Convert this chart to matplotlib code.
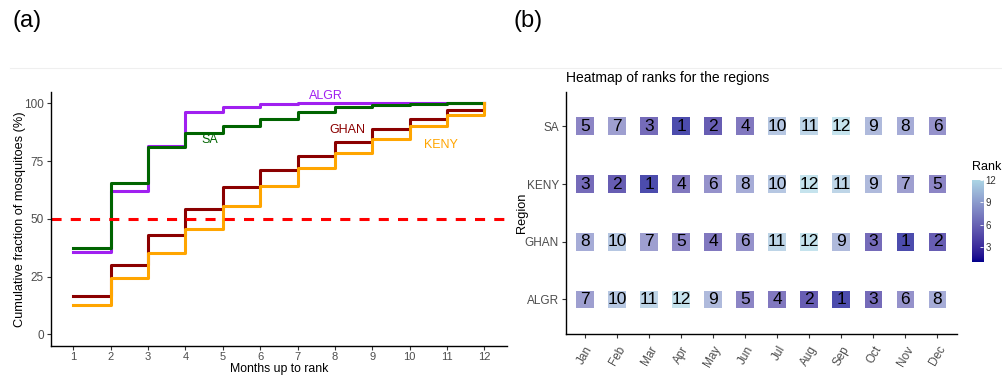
import matplotlib
matplotlib.use("Agg")
import matplotlib.pyplot as plt
import numpy as np
from matplotlib.colors import ListedColormap, to_rgb
from matplotlib.lines import Line2D

plt.rcParams["font.family"] = ["Liberation Sans", "DejaVu Sans"]

# ---- (a) cumulative fraction by number of top-ranked months ----
months_up_to_rank = [1, 2, 3, 4, 5, 6, 7, 8, 9, 10, 11, 12]
cum_algr = [35.5, 62.1, 81.5, 96.2, 98.3, 99.6, 99.9, 100, 100, 100, 100, 100]
cum_sa = [37.4, 65.5, 81.1, 87.0, 90.3, 93.1, 96.1, 98.5, 99.4, 99.7, 100, 100]
cum_ghan = [16.8, 30.2, 42.9, 54.1, 63.6, 71.2, 77.3, 83.4, 88.9, 93.1, 97.0, 100]
cum_keny = [12.7, 24.3, 35.1, 45.7, 55.5, 64.2, 71.9, 78.3, 84.6, 90.1, 95.1, 100]
threshold = 50

# ---- (b) monthly ranks per region ----
months = ["Jan", "Feb", "Mar", "Apr", "May", "Jun",
          "Jul", "Aug", "Sep", "Oct", "Nov", "Dec"]
regions = ["ALGR", "GHAN", "KENY", "SA"]
rank_algr = [7, 10, 11, 12, 9, 5, 4, 2, 1, 3, 6, 8]
rank_ghan = [8, 10, 7, 5, 4, 6, 11, 12, 9, 3, 1, 2]
rank_keny = [3, 2, 1, 4, 6, 8, 10, 12, 11, 9, 7, 5]
rank_sa = [5, 7, 3, 1, 2, 4, 10, 11, 12, 9, 8, 6]

AXIS_GREY = "#4D4D4D"
TICK_GREY = "#333333"


# --- gradient interpolated in CIE Lab, like ggplot's scale_fill_gradient ---
_WHITE = np.array([0.95047, 1.0, 1.08883])
_M = np.array([[0.4124564, 0.3575761, 0.1804375],
               [0.2126729, 0.7151522, 0.0721750],
               [0.0193339, 0.1191920, 0.9503041]])


def _srgb_to_lab(rgb):
    c = np.asarray(rgb, float)
    lin = np.where(c <= 0.04045, c / 12.92, ((c + 0.055) / 1.055) ** 2.4)
    xyz = _M @ lin / _WHITE
    f = np.where(xyz > (6 / 29) ** 3, np.cbrt(xyz), xyz / (3 * (6 / 29) ** 2) + 4 / 29)
    return np.array([116 * f[1] - 16, 500 * (f[0] - f[1]), 200 * (f[1] - f[2])])


def _lab_to_srgb(lab):
    L, a, b = lab
    fy = (L + 16) / 116
    f = np.array([fy + a / 500, fy, fy - b / 200])
    xyz = np.where(f > 6 / 29, f ** 3, 3 * (6 / 29) ** 2 * (f - 4 / 29)) * _WHITE
    lin = np.linalg.solve(_M, xyz)
    c = np.where(lin <= 0.0031308, 12.92 * lin, 1.055 * np.clip(lin, 0, None) ** (1 / 2.4) - 0.055)
    return np.clip(c, 0, 1)


def lab_cmap(lo, hi, n=256):
    a, b = _srgb_to_lab(to_rgb(lo)), _srgb_to_lab(to_rgb(hi))
    return ListedColormap([_lab_to_srgb(a + t * (b - a)) for t in np.linspace(0, 1, n)])


def classic(ax):
    for side in ("top", "right"):
        ax.spines[side].set_visible(False)
    for side in ("left", "bottom"):
        ax.spines[side].set_color("black")
        ax.spines[side].set_linewidth(1.0)
    ax.tick_params(colors=TICK_GREY, labelcolor=AXIS_GREY, length=3.0,
                   width=0.8, labelsize=8.5, pad=2)


fig = plt.figure(figsize=(10.02, 3.75), dpi=100)

# thin separator under the panel tags
fig.add_artist(Line2D([0.01, 1.0], [0.818, 0.818], color="#EFEFEF", lw=0.8))
fig.text(0.012, 0.945, "(a)", fontsize=17, va="center", ha="left")
fig.text(0.512, 0.945, "(b)", fontsize=17, va="center", ha="left")

# ---------------- panel (a) ----------------
ax1 = fig.add_axes([0.0509, 0.0773, 0.4548, 0.6782])
series = [
    ("ALGR", cum_algr, "#A020F0", (7.77, 103.3)),
    ("SA", cum_sa, "#006400", (4.65, 83.9)),
    ("GHAN", cum_ghan, "#8B0000", (8.33, 88.5)),
    ("KENY", cum_keny, "#FFA500", (10.85, 82.0)),
]
for name, vals, col, (lx, ly) in series:
    ax1.step(months_up_to_rank, vals, where="post", color=col, lw=2.2)
    ax1.text(lx, ly, name, color=col, fontsize=9, ha="center", va="center")
ax1.axhline(threshold, color="red", lw=2.2, dashes=(3.3, 3.0))
ax1.set_xlim(0.4, 12.6)
ax1.set_ylim(-5, 105)
ax1.set_xticks(months_up_to_rank)
ax1.set_yticks([0, 25, 50, 75, 100])
ax1.set_xlabel("Months up to rank", fontsize=8.8, va="center")
ax1.xaxis.set_label_coords(0.5, -0.092)
ax1.set_ylabel("Cumulative fraction of mosquitoes (%)", fontsize=9.2, va="center")
ax1.yaxis.set_label_coords(-0.068, 0.5)
classic(ax1)
ax1.tick_params(axis="x", pad=1, labelsize=8)

# ---------------- panel (b) ----------------
ax2 = fig.add_axes([0.5646, 0.1093, 0.3902, 0.6462])
cmap = lab_cmap("#00008B", "#ADD8E6")
ranks = np.array([rank_algr, rank_ghan, rank_keny, rank_sa])
xs = np.arange(1, len(months) + 1)
ys = np.arange(1, len(regions) + 1)
gx, gy = np.meshgrid(xs, ys)
ax2.scatter(gx.ravel(), gy.ravel(), c=ranks.ravel(), cmap=cmap, vmin=1,
            vmax=12, marker="s", s=162, linewidths=0, alpha=0.7)
for r, row in enumerate(ranks):
    for c, v in enumerate(row):
        ax2.text(xs[c], ys[r], str(v), fontsize=12.5, ha="center",
                 va="center", color="black")
ax2.set_xlim(0.4, 12.6)
ax2.set_ylim(0.4, 4.6)
ax2.set_xticks(xs)
ax2.set_xticklabels(months, rotation=60, ha="right", va="top",
                    rotation_mode="anchor")
ax2.set_yticks(ys)
ax2.set_yticklabels(regions)
ax2.set_ylabel("Region", fontsize=9.2, va="center")
ax2.yaxis.set_label_coords(-0.112, 0.5)
ax2.set_title("Heatmap of ranks for the regions", fontsize=10, loc="left",
              pad=7)
classic(ax2)
ax2.tick_params(axis="x", pad=4)

# colour bar
cax = fig.add_axes([0.970, 0.3013, 0.011, 0.2187])
grad = np.linspace(1, 12, 256).reshape(-1, 1)
cax.imshow(grad, cmap=cmap, aspect="auto", origin="lower",
           extent=[0, 1, 1, 12], vmin=1, vmax=12)
cax.set_xlim(0, 1)
cax.set_ylim(1, 12)
cax.set_xticks([])
cax.set_yticks([3, 6, 9, 12])
cax.yaxis.tick_right()
cax.tick_params(axis="y", direction="in", color="white", length=2.5,
                width=0.6, labelsize=7, labelcolor=TICK_GREY, pad=2)
for s in cax.spines.values():
    s.set_visible(False)
cax.text(0.0, 12.9, "Rank", fontsize=9, ha="left", va="bottom")

fig.savefig("out.png", dpi=100)
